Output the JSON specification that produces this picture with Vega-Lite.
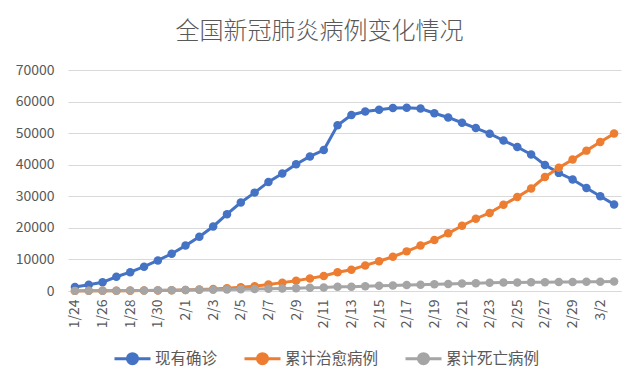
{
  "$schema": "https://vega.github.io/schema/vega-lite/v6.json",
  "width": 553,
  "height": 221,
  "autosize": {"type": "none"},
  "padding": {"left": 68, "top": 70, "right": 19, "bottom": 94},
  "background": "white",
  "title": {
    "text": "全国新冠肺炎病例变化情况",
    "font": "Noto Sans CJK SC",
    "fontSize": 24,
    "fontWeight": 300,
    "color": "#595959",
    "anchor": "middle",
    "dx": -25,
    "offset": 19
  },
  "config": {
    "view": {"stroke": null},
    "font": "Noto Sans CJK SC"
  },
  "data": {
    "values": [
      {"date": "1/24", "现有确诊": 1287, "累计治愈病例": 38, "累计死亡病例": 41},
      {"date": "1/25", "现有确诊": 1975, "累计治愈病例": 49, "累计死亡病例": 56},
      {"date": "1/26", "现有确诊": 2744, "累计治愈病例": 51, "累计死亡病例": 80},
      {"date": "1/27", "现有确诊": 4515, "累计治愈病例": 60, "累计死亡病例": 106},
      {"date": "1/28", "现有确诊": 5974, "累计治愈病例": 103, "累计死亡病例": 132},
      {"date": "1/29", "现有确诊": 7711, "累计治愈病例": 124, "累计死亡病例": 170},
      {"date": "1/30", "现有确诊": 9692, "累计治愈病例": 171, "累计死亡病例": 213},
      {"date": "1/31", "现有确诊": 11791, "累计治愈病例": 243, "累计死亡病例": 259},
      {"date": "2/1", "现有确诊": 14380, "累计治愈病例": 328, "累计死亡病例": 304},
      {"date": "2/2", "现有确诊": 17205, "累计治愈病例": 475, "累计死亡病例": 361},
      {"date": "2/3", "现有确诊": 20438, "累计治愈病例": 632, "累计死亡病例": 425},
      {"date": "2/4", "现有确诊": 24324, "累计治愈病例": 892, "累计死亡病例": 490},
      {"date": "2/5", "现有确诊": 28018, "累计治愈病例": 1153, "累计死亡病例": 563},
      {"date": "2/6", "现有确诊": 31161, "累计治愈病例": 1540, "累计死亡病例": 636},
      {"date": "2/7", "现有确诊": 34546, "累计治愈病例": 2050, "累计死亡病例": 722},
      {"date": "2/8", "现有确诊": 37198, "累计治愈病例": 2649, "累计死亡病例": 811},
      {"date": "2/9", "现有确诊": 40171, "累计治愈病例": 3281, "累计死亡病例": 908},
      {"date": "2/10", "现有确诊": 42638, "累计治愈病例": 3996, "累计死亡病例": 1016},
      {"date": "2/11", "现有确诊": 44653, "累计治愈病例": 4740, "累计死亡病例": 1113},
      {"date": "2/12", "现有确诊": 52526, "累计治愈病例": 5911, "累计死亡病例": 1367},
      {"date": "2/13", "现有确诊": 55748, "累计治愈病例": 6723, "累计死亡病例": 1380},
      {"date": "2/14", "现有确诊": 56873, "累计治愈病例": 8096, "累计死亡病例": 1523},
      {"date": "2/15", "现有确诊": 57416, "累计治愈病例": 9419, "累计死亡病例": 1665},
      {"date": "2/16", "现有确诊": 57934, "累计治愈病例": 10844, "累计死亡病例": 1770},
      {"date": "2/17", "现有确诊": 58016, "累计治愈病例": 12552, "累计死亡病例": 1868},
      {"date": "2/18", "现有确诊": 57805, "累计治愈病例": 14376, "累计死亡病例": 2004},
      {"date": "2/19", "现有确诊": 56303, "累计治愈病例": 16155, "累计死亡病例": 2118},
      {"date": "2/20", "现有确诊": 54965, "累计治愈病例": 18264, "累计死亡病例": 2236},
      {"date": "2/21", "现有确诊": 53284, "累计治愈病例": 20659, "累计死亡病例": 2345},
      {"date": "2/22", "现有确诊": 51606, "累计治愈病例": 22888, "累计死亡病例": 2442},
      {"date": "2/23", "现有确诊": 49824, "累计治愈病例": 24734, "累计死亡病例": 2592},
      {"date": "2/24", "现有确诊": 47672, "累计治愈病例": 27323, "累计死亡病例": 2663},
      {"date": "2/25", "现有确诊": 45604, "累计治愈病例": 29745, "累计死亡病例": 2715},
      {"date": "2/26", "现有确诊": 43258, "累计治愈病例": 32495, "累计死亡病例": 2744},
      {"date": "2/27", "现有确诊": 39919, "累计治愈病例": 36117, "累计死亡病例": 2788},
      {"date": "2/28", "现有确诊": 37414, "累计治愈病例": 39002, "累计死亡病例": 2835},
      {"date": "2/29", "现有确诊": 35329, "累计治愈病例": 41625, "累计死亡病例": 2870},
      {"date": "3/1", "现有确诊": 32652, "累计治愈病例": 44462, "累计死亡病例": 2912},
      {"date": "3/2", "现有确诊": 30004, "累计治愈病例": 47204, "累计死亡病例": 2943},
      {"date": "3/3", "现有确诊": 27433, "累计治愈病例": 49856, "累计死亡病例": 2981}
    ]
  },
  "transform": [
    {"fold": ["现有确诊", "累计治愈病例", "累计死亡病例"], "as": ["series", "value"]}
  ],
  "mark": {"type": "line", "strokeWidth": 3, "point": {"size": 72, "filled": true, "opacity": 1}},
  "encoding": {
    "x": {
      "field": "date",
      "type": "ordinal",
      "sort": null,
      "scale": {"type": "point", "padding": 0.5},
      "axis": {
        "title": null,
        "values": ["1/24","1/26","1/28","1/30","2/1","2/3","2/5","2/7","2/9","2/11","2/13","2/15","2/17","2/19","2/21","2/23","2/25","2/27","2/29","3/2"],
        "labelAngle": -90,
        "labelFont": "Noto Sans CJK SC",
        "labelFontSize": 14,
        "labelColor": "#595959",
        "labelPadding": 8,
        "domainColor": "#D9D9D9",
        "domainWidth": 1,
        "ticks": false,
        "grid": false
      }
    },
    "y": {
      "field": "value",
      "type": "quantitative",
      "scale": {"domain": [0, 70000], "nice": false},
      "axis": {
        "title": null,
        "values": [0, 10000, 20000, 30000, 40000, 50000, 60000, 70000],
        "format": "d",
        "labelFont": "Noto Sans CJK SC",
        "labelFontSize": 14,
        "labelColor": "#595959",
        "labelPadding": 14,
        "domain": false,
        "ticks": false,
        "gridColor": "#D9D9D9",
        "gridWidth": 1
      }
    },
    "color": {
      "field": "series",
      "type": "nominal",
      "sort": null,
      "scale": {
        "domain": ["现有确诊", "累计治愈病例", "累计死亡病例"],
        "range": ["#4472C4", "#ED7D31", "#A5A5A5"]
      },
      "legend": {
        "title": null,
        "orient": "none",
        "direction": "horizontal",
        "legendX": 45,
        "legendY": 269,
        "symbolType": "M-1,0H1M-0.28,0A0.28,0.28 0 1,1 0.28,0A0.28,0.28 0 1,1 -0.28,0Z",
        "symbolSize": 1296,
        "symbolStrokeWidth": 3,
        "labelFont": "Noto Sans CJK SC",
        "labelFontSize": 15.5,
        "labelColor": "#595959",
        "labelOffset": 3,
        "columnPadding": 20,
        "encode": {
          "symbols": {
            "update": {
              "fill": {"scale": "color", "field": "value"},
              "stroke": {"scale": "color", "field": "value"},
              "fillOpacity": {"value": 1},
              "opacity": {"value": 1}
            }
          }
        }
      }
    }
  }
}
